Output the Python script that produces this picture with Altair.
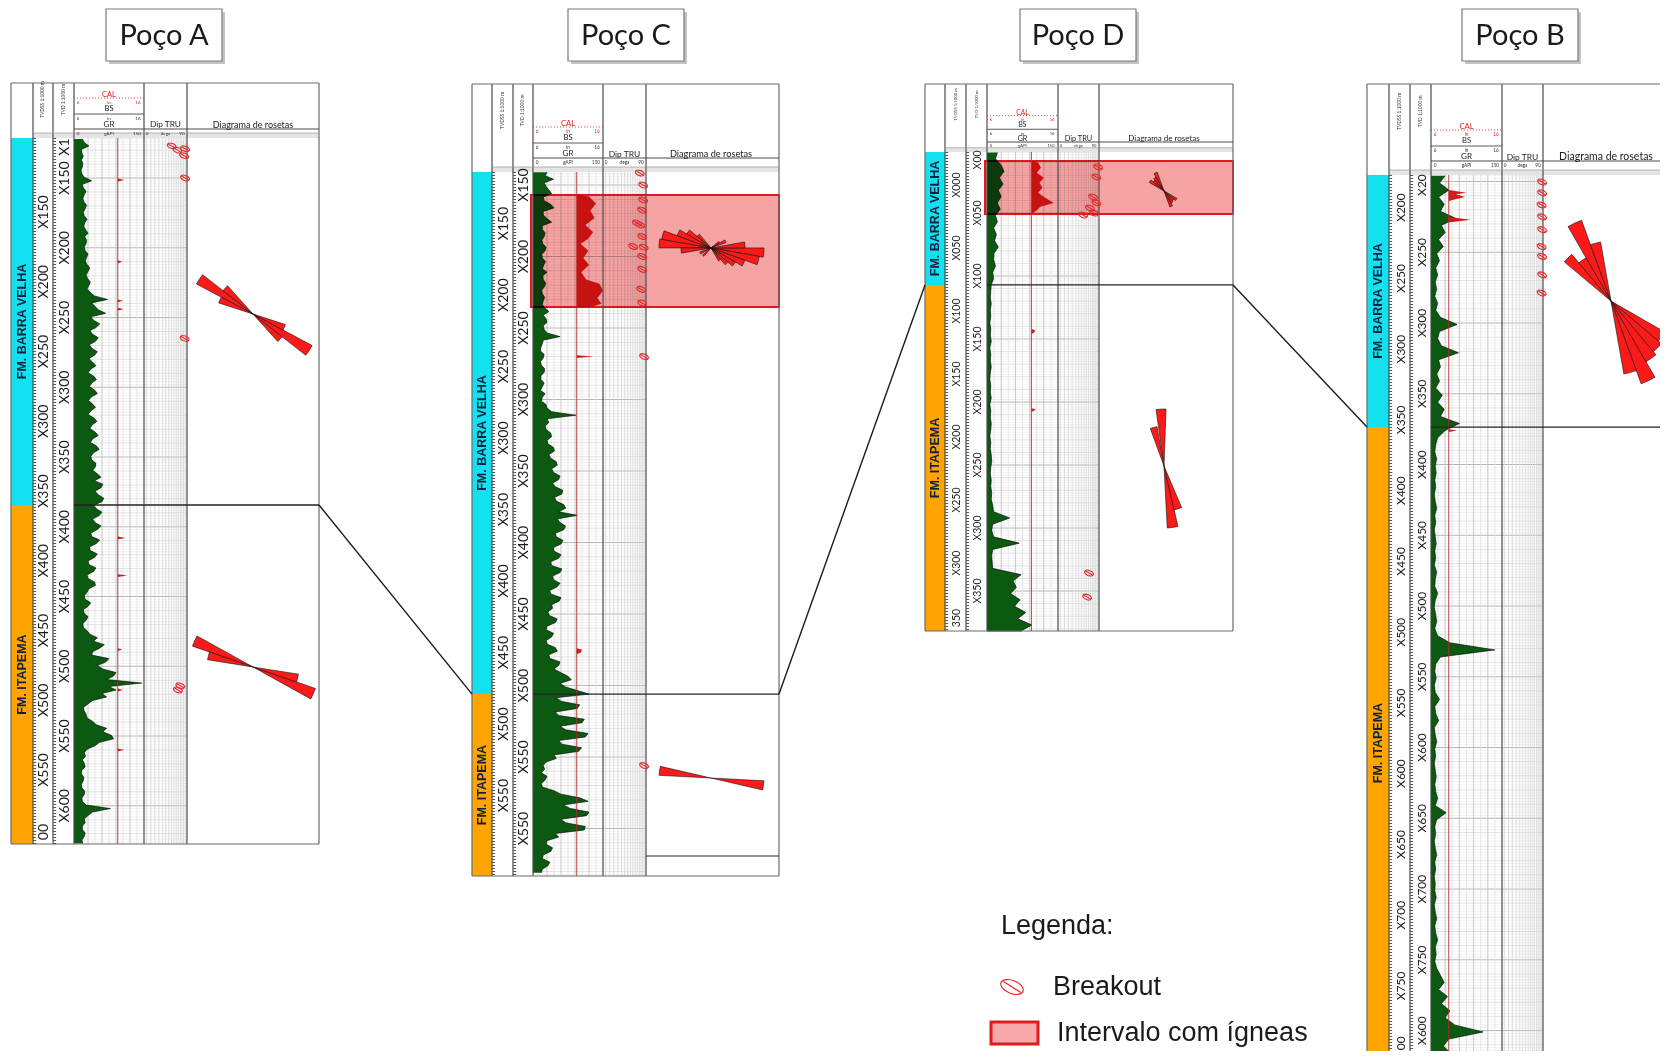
import math
import altair as alt
import pandas as pd

# ============================ DATA ============================
WELLS = ["A", "C", "D", "B"]
WELL_TITLE = {"A": "Poço A", "C": "Poço C", "D": "Poço D", "B": "Poço B"}
FM_UPPER = "FM. BARRA VELHA"
FM_LOWER = "FM. ITAPEMA"

# depth window of each log (TVD, m, anonymised "X" values) and tops
LOG_TOP = {"A": 121.3, "C": 140.9, "D": 1.6, "B": 195.4}
LOG_BASE = {"A": 627.4, "C": 633.2, "D": 381.7, "B": 820.1}
ITAPEMA_TOP = {"A": 384.4, "C": 506.0, "D": 107.1, "B": 373.5}
IGNEOUS = {"C": (157.0, 235.3), "D": (8.7, 50.8)}
ROSE_LINE_C = 619.2
BIT_SIZE = {"A": 12.25, "C": 12.25, "D": 12.25, "B": 8.5}

# GR (gAPI) sampled at a regular step from GR_START
GR_START = {"A": 122, "C": 141, "D": 2, "B": 196}
GR_STEP = {"A": 2.5, "C": 2.5, "D": 5, "B": 5}
GR_A = [18, 22, 32, 16, 17, 20, 16, 19, 18, 15, 17, 22, 38, 18, 20, 26, 22, 19, 21, 27,
        24, 20, 22, 28, 23, 21, 25, 30, 23, 27, 26, 22, 24, 30, 27, 24, 28, 34, 30, 26,
        29, 35, 32, 28, 35, 44, 72, 38, 45, 52, 68, 36, 42, 55, 48, 34, 40, 52, 46, 33,
        38, 50, 44, 32, 40, 47, 36, 30, 42, 48, 38, 33, 44, 50, 37, 31, 40, 46, 36, 30,
        43, 49, 39, 34, 45, 52, 40, 35, 48, 54, 42, 36, 38, 47, 46, 40, 50, 58, 44, 62,
        58, 45, 52, 64, 60, 42, 48, 60, 54, 40, 45, 58, 50, 36, 38, 55, 48, 33, 35, 50,
        44, 30, 32, 47, 42, 28, 30, 44, 46, 32, 28, 22, 24, 36, 30, 20, 22, 30, 26, 19,
        20, 28, 34, 50, 42, 65, 55, 40, 38, 75, 68, 50, 62, 90, 85, 70, 145, 75, 90, 60,
        70, 40, 30, 20, 22, 26, 28, 40, 48, 70, 62, 80, 85, 55, 45, 28, 22, 25, 18, 22,
        24, 17, 16, 21, 20, 16, 17, 23, 22, 17, 18, 26, 78, 40, 30, 22, 24, 18, 18, 24,
        22, 17, 19]
GR_C = [30, 26, 44, 24, 28, 34, 40, 22, 24, 38, 45, 22, 22, 30, 40, 20, 20, 26, 24, 19,
        21, 28, 26, 19, 20, 27, 23, 20, 30, 21, 22, 27, 25, 19, 20, 25, 22, 20, 26, 34,
        22, 28, 30, 22, 24, 30, 58, 22, 20, 17, 16, 24, 22, 16, 18, 25, 24, 17, 17, 24,
        20, 16, 26, 20, 18, 28, 30, 40, 92, 30, 34, 26, 28, 38, 40, 30, 32, 44, 46, 34,
        38, 50, 52, 40, 44, 58, 55, 42, 48, 64, 62, 46, 50, 66, 70, 55, 95, 52, 58, 70,
        66, 48, 50, 64, 60, 44, 45, 60, 55, 38, 40, 62, 58, 42, 44, 58, 52, 36, 38, 60,
        56, 40, 42, 32, 35, 52, 48, 30, 28, 44, 40, 28, 30, 48, 52, 34, 36, 58, 55, 45,
        60, 75, 82, 58, 70, 95, 120, 50, 60, 100, 95, 48, 55, 110, 105, 58, 70, 118, 112, 55,
        62, 104, 98, 45, 50, 28, 22, 25, 18, 30, 26, 18, 20, 45, 60, 100, 118, 65, 80, 120,
        115, 60, 70, 112, 110, 48, 55, 30, 28, 42, 38, 22, 20, 36, 32, 20, 18]
GR_D = [22, 18, 30, 36, 26, 34, 24, 30, 22, 28, 18, 22, 14, 20, 16, 24, 15, 14, 18, 12,
        14, 9, 8, 7, 9, 7, 8, 6, 8, 7, 9, 6, 8, 7, 9, 7, 6, 8, 7, 9,
        6, 8, 7, 9, 8, 6, 8, 7, 9, 10, 8, 7, 9, 8, 10, 9, 12, 14, 48, 12,
        10, 14, 68, 12, 10, 11, 12, 72, 55, 62, 50, 70, 58, 82, 65, 95, 70]
GR_B = [30, 18, 38, 16, 28, 20, 52, 22, 30, 16, 26, 12, 18, 10, 14, 9, 12, 8, 14, 10,
        20, 55, 18, 14, 22, 58, 16, 20, 12, 18, 10, 24, 14, 28, 20, 60, 30, 14, 10, 8,
        12, 9, 11, 8, 10, 7, 9, 12, 8, 10, 7, 9, 11, 8, 10, 7, 12, 9, 8, 14,
        9, 7, 10, 12, 8, 14, 40, 135, 20, 10, 8, 11, 7, 9, 18, 8, 10, 16, 7, 9,
        12, 8, 10, 7, 9, 11, 8, 10, 14, 9, 32, 12, 8, 10, 7, 9, 12, 8, 10, 7,
        9, 8, 11, 7, 9, 12, 8, 10, 14, 9, 11, 8, 12, 20, 28, 16, 35, 22, 40, 30,
        50, 110, 38, 26, 42]
GR = {"A": GR_A, "C": GR_C, "D": GR_D, "B": GR_B}

# caliper (in) where it departs from bit size
CAL_A_DEP = [150.4, 151.4, 152.4, 209, 210, 211, 237, 238, 239, 243, 244, 245, 407, 408, 409,
             434, 435, 436, 487, 488, 489, 516, 517, 518, 559, 560, 561]
CAL_A_VAL = [12.25, 13.2, 12.25, 12.25, 12.9, 12.25, 12.25, 13.0, 12.25, 12.25, 13.1, 12.25,
             12.25, 13.4, 12.25, 12.25, 13.6, 12.25, 12.25, 12.9, 12.25, 12.25, 13.0, 12.25,
             12.25, 13.2, 12.25]
CAL_C_DEP = [157, 158, 163, 168, 173, 178, 183, 188, 191, 196, 201, 206, 211, 216, 219, 224,
             229, 233, 235, 235.5, 269, 270, 271, 474, 475, 477, 478]
CAL_C_VAL = [12.25, 14.0, 15.0, 14.2, 14.8, 13.5, 14.6, 13.8, 12.8, 13.9, 13.2, 14.0, 12.9,
             13.6, 15.5, 16.0, 15.2, 15.8, 14.5, 12.25, 12.25, 14.6, 12.25, 12.25, 13.0, 12.8,
             12.25]
CAL_D_DEP = [8.7, 10, 14, 18, 22, 26, 30, 34, 38, 42, 45, 48, 50.8, 142, 143, 145, 146, 205,
             206, 208]
CAL_D_VAL = [12.25, 13.2, 13.6, 13.0, 14.0, 13.4, 13.8, 13.2, 14.2, 15.4, 13.5, 13.0, 12.25,
             12.25, 12.8, 12.6, 12.25, 12.25, 12.9, 12.25]
CAL_B_DEP = [206, 208, 209, 211, 213, 214, 225, 227, 229, 375, 376, 377]
CAL_B_VAL = [8.5, 11.0, 9.5, 10.8, 9.0, 8.5, 8.5, 11.6, 8.5, 8.5, 9.6, 8.5]
CAL = {"A": (CAL_A_DEP, CAL_A_VAL), "C": (CAL_C_DEP, CAL_C_VAL),
       "D": (CAL_D_DEP, CAL_D_VAL), "B": (CAL_B_DEP, CAL_B_VAL)}

# breakouts: depth (m) and position on the 0-90 dip track
BO_A_DEP = [127, 129, 130, 134, 150, 265, 514, 517]
BO_A_DIP = [58, 86, 70, 84, 86, 85, 76, 71]
BO_C_DEP = [141.6, 150, 160.5, 167.5, 176.6, 178, 186, 193, 193.5, 200, 209, 223, 232.5, 270, 556]
BO_C_DIP = [77, 84, 84, 82, 71, 78, 82, 63, 85, 82, 82, 80, 82, 86, 86]
BO_D_DEP = [13.5, 21.4, 37.3, 42, 46, 50, 51.6, 335.7, 354.8]
BO_D_DIP = [88, 84, 77, 84, 70, 79, 55, 68, 64]
BO_B_DEP = [200.4, 208, 216.6, 225, 234, 246, 253, 266, 278.8]
BO_B_DIP = [88, 88, 87, 88, 88, 87, 88, 88, 87]
BO = {"A": (BO_A_DEP, BO_A_DIP), "C": (BO_C_DEP, BO_C_DIP),
      "D": (BO_D_DEP, BO_D_DIP), "B": (BO_B_DEP, BO_B_DIP)}

# depth-track labels (text, depth on the TVD scale)
A_TVD_TXT = ["X1", "X150", "X200", "X250", "X300", "X350", "X400", "X450", "X500", "X550", "X600"]
A_TVD_DEP = [127.8, 150, 200, 250, 300, 350, 400, 450, 500, 550, 600]
A_TVDSS_TXT = ["X150", "X200", "X250", "X300", "X350", "X400", "X450", "X500", "X550", "00"]
A_TVDSS_DEP = [174.4, 224.4, 274.4, 324.4, 374.4, 424.4, 474.4, 524.4, 574.4, 618.8]
C_TVD_TXT = ["X150", "X200", "X250", "X300", "X350", "X400", "X450", "X500", "X550", "X550"]
C_TVD_DEP = [150, 200, 250, 300, 350, 400, 450, 500, 550, 600]
C_TVDSS_TXT = ["X150", "X200", "X250", "X300", "X350", "X400", "X450", "X500", "X550"]
C_TVDSS_DEP = [177, 227, 277, 327, 377, 427, 477, 527, 577]
D_TVD_TXT = ["X00", "X050", "X100", "X150", "X200", "X250", "X300", "X350"]
D_TVD_DEP = [7.9, 50, 100, 150, 200, 250, 300, 350]
D_TVDSS_TXT = ["X000", "X050", "X100", "X150", "X200", "X250", "X300", "350"]
D_TVDSS_DEP = [27.8, 77.8, 127.8, 177.8, 227.8, 277.8, 327.8, 371.4]
B_TVD_TXT = ["X20", "X250", "X300", "X350", "X400", "X450", "X500", "X550", "X600", "X650",
             "X700", "X750", "X600"]
B_TVD_DEP = [202.5, 250, 300, 350, 400, 450, 500, 550, 600, 650, 700, 750, 800]
B_TVDSS_TXT = ["X200", "X250", "X300", "X350", "X400", "X450", "X500", "X550", "X600", "X650",
               "X700", "X750", "00"]
B_TVDSS_DEP = [218.4, 268.4, 318.4, 368.4, 418.4, 468.4, 518.4, 568.4, 618.4, 668.4, 718.4,
               768.4, 809.0]
TVD_LAB = {"A": (A_TVD_TXT, A_TVD_DEP), "C": (C_TVD_TXT, C_TVD_DEP),
           "D": (D_TVD_TXT, D_TVD_DEP), "B": (B_TVD_TXT, B_TVD_DEP)}
TVDSS_LAB = {"A": (A_TVDSS_TXT, A_TVDSS_DEP), "C": (C_TVDSS_TXT, C_TVDSS_DEP),
             "D": (D_TVDSS_TXT, D_TVDSS_DEP), "B": (B_TVDSS_TXT, B_TVDSS_DEP)}

# rose diagrams: centre depth, petal azimuths (deg) and petal lengths
ROSE_A1_AZ = [293, 303, 313, 113, 123, 133]
ROSE_A1_LEN = [36, 64, 38, 34, 67, 37]
ROSE_A2_AZ = [284, 294, 104, 114]
ROSE_A2_LEN = [46, 64, 46, 66]
ROSE_C1_AZ = [265, 275, 285, 295, 305, 315, 85, 95, 105, 115, 125, 135, 145, 65, 55, 225, 245]
ROSE_C1_LEN = [30, 52, 50, 36, 28, 18, 34, 53, 49, 36, 28, 22, 15, 16, 10, 11, 12]
ROSE_C2_AZ = [278, 98]
ROSE_C2_LEN = [52, 53]
ROSE_D1_AZ = [305, 315, 325, 335, 125, 135, 145, 155]
ROSE_D1_LEN = [17, 14, 16, 20, 15, 13, 14, 17]
ROSE_D2_AZ = [357, 345, 172, 162]
ROSE_D2_LEN = [57, 40, 62, 45]
ROSE_B1_AZ = [315, 325, 335, 345, 125, 135, 145, 155, 165]
ROSE_B1_LEN = [61, 50, 86, 60, 62, 66, 70, 88, 74]
ROSES = [("A", 247.5, ROSE_A1_AZ, ROSE_A1_LEN), ("A", 500.5, ROSE_A2_AZ, ROSE_A2_LEN),
         ("C", 194.0, ROSE_C1_AZ, ROSE_C1_LEN), ("C", 564.7, ROSE_C2_AZ, ROSE_C2_LEN),
         ("D", 32.5, ROSE_D1_AZ, ROSE_D1_LEN), ("D", 250.8, ROSE_D2_AZ, ROSE_D2_LEN),
         ("B", 284.5, ROSE_B1_AZ, ROSE_B1_LEN)]
PETAL_HALF = 5.0

LEGEND_TITLE = "Legenda:"
LEGEND_ITEMS = ["Breakout", "Intervalo com ígneas"]

# ============================ LAYOUT (figure pixels) ============================
LAY = {
    "A": dict(left=11, fm=33, tvdss=53, tvd=74, gr=144, dip=187, rose=319, top=83, hb=129,
              dtop=138, bot=844, k=1.0, tx=164, lab=14, hdr=9.0, rc=253),
    "C": dict(left=472, fm=492, tvdss=513, tvd=533, gr=603, dip=646, rose=779, top=84, hb=158,
              dtop=172, bot=876, k=1.0, tx=626, lab=14, hdr=9.2, rc=711),
    "D": dict(left=925, fm=945, tvdss=966, tvd=987, gr=1058, dip=1099, rose=1233, top=84, hb=142,
              dtop=152, bot=631, k=0.85, tx=1078, lab=10.5, hdr=8.0, rc=1164),
    "B": dict(left=1367, fm=1389, tvdss=1410, tvd=1431, gr=1502, dip=1543, rose=1683, top=84,
              hb=161, dtop=175, bot=1059, k=1.0, tx=1520, lab=12, hdr=10.5, rc=1606),
}
DIP_GRID = [0.055, 0.157, 0.252, 0.346, 0.433, 0.504, 0.575, 0.638, 0.693, 0.748, 0.795, 0.843,
            0.882, 0.921, 0.961]
CYAN, ORANGE, GREEN, RED = "#14e1f0", "#ffa400", "#0c5a12", "#ff1a1a"


def ymap(w, d):
    L = LAY[w]
    return L["dtop"] + (d - LOG_TOP[w]) * (L["bot"] - L["dtop"]) / (LOG_BASE[w] - LOG_TOP[w])


def xgr(w, v):
    L = LAY[w]
    return L["tvd"] + v / 150.0 * (L["gr"] - L["tvd"])


def xcal(w, v):
    L = LAY[w]
    return L["tvd"] + (v - 6.0) / 10.0 * (L["gr"] - L["tvd"])


def xdip(w, v):
    L = LAY[w]
    return L["gr"] + v / 90.0 * (L["dip"] - L["gr"])


grid, rules, drules, rects, texts, boldt, titlet, legt = [], [], [], [], [], [], [], []
gr_rows, cal_rows, bo_rows, rose_rows, ign_rows = [], [], [], [], []


def rule(lst, x, y, x2, y2, c, w):
    lst.append(dict(x=x, y=y, x2=x2, y2=y2, c=c, w=w))


def txt(lst, t, x, y, s, c="#1a1a1a", a=0):
    lst.append(dict(t=t, x=x, y=y, s=s, c=c, a=a))


for w in WELLS:
    L = LAY[w]
    k = L["k"]
    ybnd = ymap(w, ITAPEMA_TOP[w])
    rose_bot = ybnd if w == "B" else L["bot"]

    # title box
    rects.append(dict(x=L["tx"] - 55, x2=L["tx"] + 61, y=12, y2=64, f="#c4c4c4", sc="#c4c4c4", sw=0))
    rects.append(dict(x=L["tx"] - 58, x2=L["tx"] + 58, y=9, y2=61, f="#ffffff", sc="#7a7a7a", sw=1.2))
    txt(titlet, WELL_TITLE[w], L["tx"], 36, 29)

    # formation column
    rects.append(dict(x=L["left"], x2=L["fm"], y=L["dtop"], y2=ybnd, f=CYAN, sc=CYAN, sw=0))
    rects.append(dict(x=L["left"], x2=L["fm"], y=ybnd, y2=L["bot"], f=ORANGE, sc=ORANGE, sw=0))
    fx = (L["left"] + L["fm"]) / 2
    txt(boldt, FM_UPPER, fx, (L["dtop"] + ybnd) / 2, 12.5, "#10213d", 270)
    txt(boldt, FM_LOWER, fx, (ybnd + L["bot"]) / 2, 12.5, "#10213d", 270)

    # gray band under header
    rects.append(dict(x=L["fm"], x2=L["rose"], y=L["dtop"] - 5 * k, y2=L["dtop"], f="#e4e4e4",
                      sc="#e4e4e4", sw=0))

    # horizontal grid in GR + dip tracks
    d = math.ceil(LOG_TOP[w] / 2.0) * 2
    while d <= LOG_BASE[w]:
        y = ymap(w, d)
        if d % 50 == 0:
            c, sw = "#a3a3a3", 0.8
        elif d % 10 == 0:
            c, sw = "#cdcdcd", 0.6
        else:
            c, sw = "#e5e5e5", 0.5
        rule(grid, L["tvd"], y, L["dip"], y, c, sw)
        d += 2
    for g in range(15, 150, 15):
        c = "#b5b5b5" if g % 30 == 0 else "#dedede"
        rule(grid, xgr(w, g), L["dtop"], xgr(w, g), L["bot"], c, 0.7)
    for f in DIP_GRID:
        xx = L["gr"] + f * (L["dip"] - L["gr"])
        rule(grid, xx, L["dtop"], xx, L["bot"], "#cfcfcf", 0.7)

    # GR curve
    for i, v in enumerate(GR[w]):
        dd = GR_START[w] + GR_STEP[w] * i
        if dd > LOG_BASE[w] + 0.5:
            break
        gr_rows.append(dict(well=w, i=i, y=ymap(w, dd), x=xgr(w, v), x0=L["tvd"]))

    # bit size + caliper
    bsx = xcal(w, BIT_SIZE[w])
    rule(rules, bsx, L["dtop"], bsx, L["bot"], "#b52a2a", 0.9)
    cd, cv = CAL[w]
    for i, (dd, v) in enumerate(zip(cd, cv)):
        cal_rows.append(dict(well=w, i=i, y=ymap(w, dd), x=xcal(w, v), x0=bsx))

    # breakouts
    bd, bv = BO[w]
    for dd, v in zip(bd, bv):
        bo_rows.append(dict(x=xdip(w, v), y=ymap(w, dd), s=85, a=20))

    # igneous interval
    if w in IGNEOUS:
        t0, t1 = IGNEOUS[w]
        ign_rows.append(dict(x=L["tvd"] - 2, x2=L["rose"], y=ymap(w, t0), y2=ymap(w, t1)))

    # structure lines
    dark, mid = "#4a4a4a", "#6a6a6a"
    for key in ["left", "fm", "tvdss", "tvd", "gr", "dip"]:
        rule(rules, L[key], L["top"], L[key], L["bot"], mid if key == "left" else dark, 1.2)
    rule(rules, L["rose"], L["top"], L["rose"], rose_bot, mid, 1.2)
    rule(rules, L["left"], L["top"], L["rose"], L["top"], mid, 1.2)
    rule(rules, L["left"], L["bot"], L["rose"] if rose_bot == L["bot"] else L["dip"], L["bot"], mid, 1.2)
    rule(rules, L["tvd"], L["hb"], L["rose"], L["hb"], dark, 1.0)
    rule(rules, L["tvd"], L["hb"] - 15 * k, L["gr"], L["hb"] - 15 * k, dark, 0.9)
    rule(rules, L["fm"], L["dtop"] - 5 * k, L["rose"], L["dtop"] - 5 * k, "#9a9a9a", 0.7)
    rule(rules, L["tvd"], ybnd, L["rose"], ybnd, "#222222", 1.3)
    if w == "C":
        yl = ymap(w, ROSE_LINE_C)
        rule(rules, L["dip"], yl, L["rose"], yl, "#222222", 1.2)
    rule(drules, L["tvd"], L["hb"] - 31 * k, L["gr"], L["hb"] - 31 * k, "#e03030", 0.9)

    # depth tick columns
    rule(drules, L["fm"] + 1.6, L["dtop"], L["fm"] + 1.6, L["bot"], "#555555", 3)
    rule(drules, L["tvdss"] + 1.6, L["dtop"], L["tvdss"] + 1.6, L["bot"], "#555555", 3)

    # depth labels
    for t, dd in zip(*TVD_LAB[w]):
        txt(texts, t, (L["tvdss"] + L["tvd"]) / 2 + 1, ymap(w, dd), L["lab"], "#1a1a1a", 270)
    for t, dd in zip(*TVDSS_LAB[w]):
        txt(texts, t, (L["fm"] + L["tvdss"]) / 2 + 1, ymap(w, dd), L["lab"], "#1a1a1a", 270)

    # header texts
    hb = L["hb"]
    g0, g1 = L["tvd"], L["gr"]
    gc = (g0 + g1) / 2
    hs = min(L["hdr"], 9.2) / 9.0
    yh = L["top"] + (L["dtop"] - L["top"]) * 0.3
    txt(texts, "TVDSS 1:1000 m", (L["fm"] + L["tvdss"]) / 2, yh, 4.8 * hs, "#333333", 270)
    txt(texts, "TVD 1:1000 m", (L["tvdss"] + L["tvd"]) / 2, yh, 4.8 * hs, "#333333", 270)
    txt(texts, "CAL", gc, hb - 34 * k, 7.5 * hs, "#e02020")
    for t, xx in (("6", g0 + 4), ("in", gc), ("16", g1 - 6)):
        txt(texts, t, xx, hb - 26 * k, 4.6 * hs, "#e02020")
        txt(texts, t, xx, hb - 10 * k, 4.6 * hs, "#333333")
    txt(texts, "BS", gc, hb - 20 * k, 7.5 * hs)
    txt(texts, "GR", gc, hb - 4 * k, 8.0 * hs)
    for t, xx in (("0", g0 + 4), ("gAPI", gc), ("150", g1 - 7)):
        txt(texts, t, xx, hb + 5 * k, 4.6 * hs, "#333333")
    dc = (L["gr"] + L["dip"]) / 2
    txt(texts, "Dip  TRU", dc, hb - 4 * k, 8.3 * hs)
    for t, xx in (("0", L["gr"] + 3), ("dega", dc), ("90", L["dip"] - 5)):
        txt(texts, t, xx, hb + 5 * k, 4.6 * hs, "#333333")
    txt(texts, "Diagrama de rosetas", L["rc"], hb - 4 * k, L["hdr"])

# rose diagrams
for w, dd, azs, lens in ROSES:
    L = LAY[w]
    cx = L["rc"] + 5 if w == "B" else L["rc"]
    cy = ymap(w, dd)
    for az, ln in sorted(zip(azs, lens), key=lambda p: -p[1]):
        rose_rows.append(dict(x=cx, y=cy, t0=math.radians(az - PETAL_HALF),
                              t1=math.radians(az + PETAL_HALF), r=ln, r0=0))

# correlation lines between wells (at the Itapema top)
chain = ["A", "C", "D", "B"]
for a, b in zip(chain[:-1], chain[1:]):
    rule(rules, LAY[a]["rose"], ymap(a, ITAPEMA_TOP[a]),
         LAY[b]["left"], ymap(b, ITAPEMA_TOP[b]), "#1a1a1a", 1.4)

# legend
txt(legt, LEGEND_TITLE, 1001, 926, 27)
bo_rows.append(dict(x=1012, y=987, s=560, a=22))
txt(legt, LEGEND_ITEMS[0], 1053, 987, 27)
rects.append(dict(x=991, x2=1038, y=1022, y2=1044, f="#f7a9a9", sc="#e11a1a", sw=3))
txt(legt, LEGEND_ITEMS[1], 1057, 1033, 27)

# ============================ CHART ============================
W, H = 1652, 1043
XS = alt.Scale(domain=[8, 1660], nice=False, zero=False)
YS = alt.Scale(domain=[8, 1051], nice=False, zero=False, reverse=True)


def X(f="x"):
    return alt.X(f"{f}:Q", scale=XS, axis=None)


def Y(f="y"):
    return alt.Y(f"{f}:Q", scale=YS, axis=None)


def rule_layer(rows, **mk):
    return alt.Chart(pd.DataFrame(rows)).mark_rule(**mk).encode(
        x=X(), y=Y(), x2="x2:Q", y2="y2:Q",
        color=alt.Color("c:N", scale=None),
        strokeWidth=alt.StrokeWidth("w:Q", scale=None))


def text_layer(rows, font, **mk):
    return alt.Chart(pd.DataFrame(rows)).mark_text(font=font, **mk).encode(
        x=X(), y=Y(), text="t:N",
        size=alt.Size("s:Q", scale=None),
        color=alt.Color("c:N", scale=None),
        angle=alt.Angle("a:Q", scale=None))


rect_layer = alt.Chart(pd.DataFrame(rects)).mark_rect().encode(
    x=X(), x2="x2:Q", y=Y(), y2="y2:Q",
    color=alt.Color("f:N", scale=None),
    stroke=alt.Stroke("sc:N", scale=None),
    strokeWidth=alt.StrokeWidth("sw:Q", scale=None))

gr_df = pd.DataFrame(gr_rows)
gr_area = alt.Chart(gr_df).mark_area(orient="horizontal", color=GREEN, opacity=1).encode(
    y=Y(), x=X(), x2="x0:Q", detail="well:N")
gr_line = alt.Chart(gr_df).mark_line(color="#000000", strokeWidth=0.6).encode(
    x=X(), y=Y(), detail="well:N", order="i:Q")

cal_df = pd.DataFrame(cal_rows)
cal_area = alt.Chart(cal_df).mark_area(orient="horizontal", color="#cf1c1c", opacity=1).encode(
    y=Y(), x=X(), x2="x0:Q", detail="well:N")

ign_layer = alt.Chart(pd.DataFrame(ign_rows)).mark_rect(
    fill="#f6a3a3", stroke="#e3191f", strokeWidth=2, blend="multiply").encode(
    x=X(), x2="x2:Q", y=Y(), y2="y2:Q")

BO_PATH = "M-1,0A1,0.55,0,1,0,1,0A1,0.55,0,1,0,-1,0ZM-0.85,-0.15L0.85,0.15"
bo_layer = alt.Chart(pd.DataFrame(bo_rows)).mark_point(
    shape=BO_PATH, filled=False, color="#e8262b", strokeWidth=1.1, opacity=1).encode(
    x=X(), y=Y(), size=alt.Size("s:Q", scale=None), angle=alt.Angle("a:Q", scale=None))

rose_layer = alt.Chart(pd.DataFrame(rose_rows)).mark_arc(
    color=RED, stroke="#111111", strokeWidth=0.6).encode(
    x=X(), y=Y(),
    theta=alt.Theta("t0:Q", scale=None, stack=False), theta2="t1:Q",
    radius=alt.Radius("r:Q", scale=None), radius2="r0:Q")

chart = alt.layer(
    rect_layer,
    rule_layer(grid),
    gr_area, gr_line,
    cal_area,
    ign_layer,
    rule_layer(rules),
    rule_layer(drules, strokeDash=[1, 2]),
    bo_layer,
    rose_layer,
    text_layer(texts, "Lato", align="center", baseline="middle"),
    text_layer(boldt, "Liberation Sans", align="center", baseline="middle", fontWeight="bold"),
    text_layer(titlet, "Lato", align="center", baseline="middle"),
    text_layer(legt, "Liberation Sans", align="left", baseline="middle"),
).properties(
    width=W, height=H, padding=0, autosize=alt.AutoSizeParams(type="none")
).configure_view(strokeWidth=0)

chart.save("out.html", embed_options={"renderer": "svg", "actions": False})
